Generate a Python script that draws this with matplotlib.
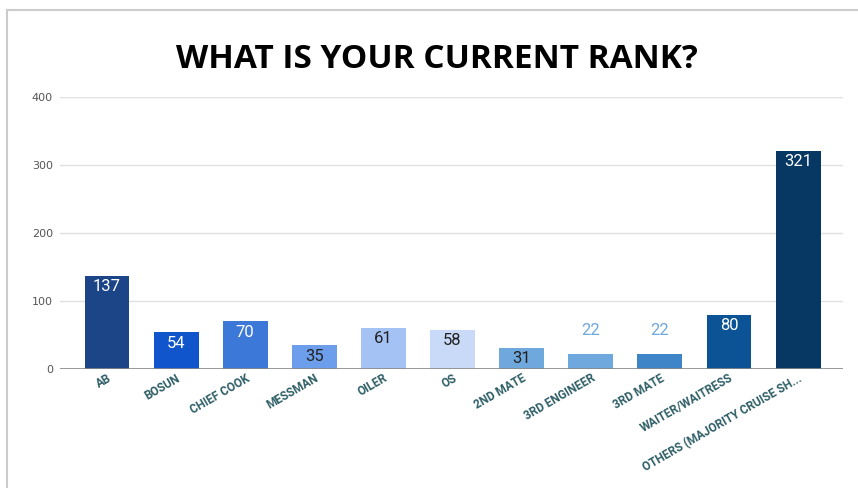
import matplotlib.pyplot as plt
from matplotlib.lines import Line2D

# survey answers
ranks = ["AB", "BOSUN", "CHIEF COOK", "MESSMAN", "OILER", "OS", "2ND MATE",
         "3RD ENGINEER", "3RD MATE", "WAITER/WAITRESS", "OTHERS (MAJORITY CRUISE SH..."]
counts = [137, 54, 70, 35, 61, 58, 31, 22, 22, 80, 321]
bar_colors = ["#1c4587", "#1155cc", "#3c78d8", "#6d9eeb", "#a4c2f4", "#c9daf8",
              "#6fa8dc", "#6fa8dc", "#3d85c6", "#0b5394", "#073763"]
label_colors = ["white", "white", "white", "#222222", "#222222", "#222222",
                "#222222", "#6fa8dc", "#6fa8dc", "white", "white"]

fig = plt.figure(figsize=(8.58, 4.88), dpi=100)
ax = fig.add_axes([60/858, 1 - 369/488, 783/858, 272/488])

x = range(len(ranks))
bars = ax.bar(x, counts, width=0.65, color=bar_colors, zorder=3)

for b, v, c in zip(bars, counts, label_colors):
    h = b.get_height()
    if h < 28:
        # too short, label sits above bar
        ax.text(b.get_x() + b.get_width()/2, h + 24, str(v), ha='center', va='bottom',
                color=c, fontsize=12, family='Roboto', zorder=4)
    else:
        ax.text(b.get_x() + b.get_width()/2, h - 5, str(v), ha='center', va='top',
                color=c, fontsize=12, family='Roboto', zorder=4)

ax.set_ylim(0, 400)
ax.set_xlim(-0.68, 10.65)
ax.set_yticks([0, 100, 200, 300, 400])
ax.yaxis.grid(True, color='#e0e0e0', linewidth=1, zorder=0)
ax.axhline(0, color='#888888', linewidth=1.2, zorder=4)
for s in ax.spines.values():
    s.set_visible(False)
ax.tick_params(axis='y', length=0, pad=5, labelsize=8, labelcolor='#555555')
ax.tick_params(axis='x', length=0, pad=2)
ax.set_xticks(list(x))
ax.set_xticklabels(ranks, rotation=30, ha='right', rotation_mode='anchor',
                   fontsize=8.5, fontweight='bold', color='#2e5e66', family='Roboto')

fig.text(437/858, 1 - 60/488, "WHAT IS YOUR CURRENT RANK?", ha='center', va='center',
         fontsize=24, fontweight='bold', family='Open Sans', color='black')

# screenshot frame
fig.add_artist(Line2D([7/858, 1], [1 - 10/488, 1 - 10/488], transform=fig.transFigure,
                      color='#cccccc', linewidth=1.5))
fig.add_artist(Line2D([7/858, 7/858], [0, 1 - 10/488], transform=fig.transFigure,
                      color='#cccccc', linewidth=1.5))

fig.savefig('out.png', dpi=100)
